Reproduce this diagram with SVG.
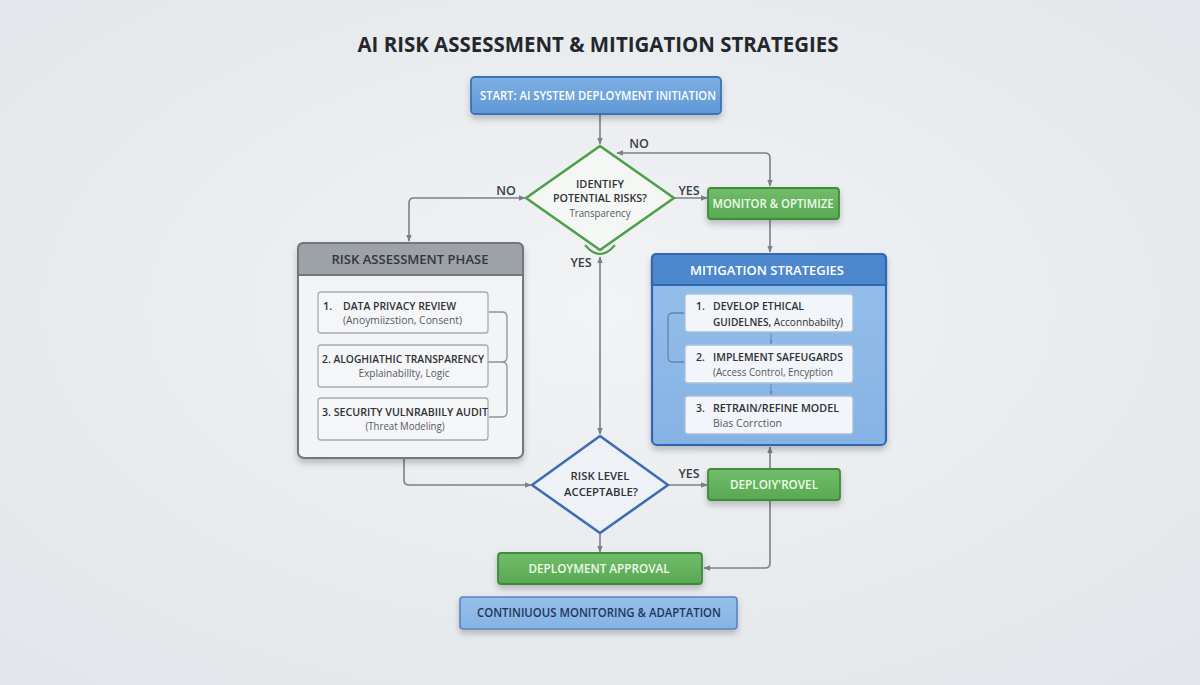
<svg xmlns="http://www.w3.org/2000/svg" width="1200" height="685" viewBox="0 0 1200 685">
<defs>
<radialGradient id="bg" cx="50%" cy="45%" r="70%">
<stop offset="0" stop-color="#f1f3f5"/><stop offset="1" stop-color="#e3e6ea"/>
</radialGradient>
<linearGradient id="gBlue" x1="0" y1="0" x2="0" y2="1"><stop offset="0" stop-color="#7db0e4"/><stop offset="1" stop-color="#5f98d6"/></linearGradient>
<linearGradient id="gGreen" x1="0" y1="0" x2="0" y2="1"><stop offset="0" stop-color="#72bd6b"/><stop offset="1" stop-color="#58a852"/></linearGradient>
<linearGradient id="gLight" x1="0" y1="0" x2="0" y2="1"><stop offset="0" stop-color="#96bfea"/><stop offset="1" stop-color="#86b3e4"/></linearGradient>
<filter id="sh" x="-10%" y="-20%" width="120%" height="160%">
<feDropShadow dx="0" dy="4" stdDeviation="3" flood-color="#000" flood-opacity="0.22"/>
</filter>
<marker id="ah" viewBox="0 0 10 10" refX="9" refY="5" markerWidth="7" markerHeight="7" orient="auto-start-reverse" markerUnits="userSpaceOnUse">
<path d="M0,1 L10,5 L0,9 z" fill="#7c8086"/>
</marker>
<marker id="ahs" viewBox="0 0 10 10" refX="9" refY="5" markerWidth="5" markerHeight="5" orient="auto" markerUnits="userSpaceOnUse">
<path d="M0,1 L10,5 L0,9 z" fill="#6d8fbf"/>
</marker>
<style>
.t{font-family:"Open Sans","Liberation Sans",sans-serif;}
.b{font-weight:700;}
.s{font-weight:600;}
.w{fill:#ffffff;}
.lw{fill:#eefbe9;}
.dk{fill:#2e3135;}
.gr{fill:#55595e;}
.con{fill:none;stroke:#7c8086;stroke-width:1.6;}
.lbl{font-family:"Open Sans","Liberation Sans",sans-serif;font-size:12.5px;font-weight:600;fill:#3a3d41;}
.ibox{fill:#f5f6f7;stroke:#a7abb0;stroke-width:1.3;}
.mbox{fill:#f2f5f9;stroke:#a9bfdc;stroke-width:1.3;}
.grn{fill:url(#gGreen);stroke:#3f8c3b;stroke-width:1.8;}
</style>
</defs>
<rect width="1200" height="685" fill="url(#bg)"/>

<text id="title" class="t b" x="598" y="52" font-size="21" text-anchor="middle" fill="#24272b" textLength="481" lengthAdjust="spacingAndGlyphs">AI RISK ASSESSMENT &amp; MITIGATION STRATEGIES</text>

<g id="connectors">
<path class="con" d="M600,115 V144" marker-end="url(#ah)"/>
<path class="con" d="M770,186 V158 Q770,153 765,153 H617" marker-start="url(#ah)" marker-end="url(#ah)"/>
<path class="con" d="M525,198 H414 Q409,198 409,203 V241" marker-start="url(#ah)" marker-end="url(#ah)"/>
<path class="con" d="M674,198 H707" marker-end="url(#ah)"/>
<path class="con" d="M770,220 V252" marker-end="url(#ah)"/>
<path class="con" d="M600,257 V434" marker-start="url(#ah)" marker-end="url(#ah)"/>
<path class="con" d="M404,459 V480 Q404,485 409,485 H531" marker-end="url(#ah)"/>
<path class="con" d="M668,485 H707" marker-end="url(#ah)"/>
<path class="con" d="M704,568 H765 Q770,568 770,563 V447" marker-start="url(#ah)" marker-end="url(#ah)"/>
<path class="con" d="M600,534 V552" marker-end="url(#ah)"/>
<text class="lbl" x="639" y="148" text-anchor="middle">NO</text>
<text class="lbl" x="506" y="195" text-anchor="middle">NO</text>
<text class="lbl" x="689" y="195" text-anchor="middle">YES</text>
<text class="lbl" x="581" y="267" text-anchor="middle">YES</text>
<text class="lbl" x="689" y="478" text-anchor="middle">YES</text>
</g>

<g id="start">
<rect x="471" y="77" width="250" height="37" rx="4" fill="url(#gBlue)" stroke="#3a72b9" stroke-width="1.8" filter="url(#sh)"/>
<text class="t s w" x="598" y="100" font-size="12.5" text-anchor="middle" textLength="236" lengthAdjust="spacingAndGlyphs">START: AI SYSTEM DEPLOYMENT INITIATION</text>
</g>

<g id="identify-risks">
<polygon points="600,146 674,198 600,250 526,198" fill="#f5f7f5" stroke="#4d9f48" stroke-width="2.6" stroke-linejoin="round"/>
<path d="M585,245 Q600,263 615,245" fill="none" stroke="#4d9f48" stroke-width="2"/>
<text class="t s dk" x="600" y="188" font-size="11.5" text-anchor="middle" textLength="48" lengthAdjust="spacingAndGlyphs">IDENTIFY</text>
<text class="t s dk" x="600" y="202" font-size="11.5" text-anchor="middle" textLength="94" lengthAdjust="spacingAndGlyphs">POTENTIAL RISKS?</text>
<text class="t gr" x="600" y="217" font-size="10.5" text-anchor="middle" textLength="61" lengthAdjust="spacingAndGlyphs">Transparency</text>
</g>

<g id="monitor-optimize">
<rect class="grn" x="708" y="188" width="131" height="31" rx="3" filter="url(#sh)"/>
<text class="t s lw" x="773" y="208" font-size="12" text-anchor="middle" textLength="121" lengthAdjust="spacingAndGlyphs">MONITOR &amp; OPTIMIZE</text>
</g>

<g id="risk-assessment-phase">
<rect x="298" y="243" width="225" height="215" rx="6" fill="#f3f4f5" stroke="#72777d" stroke-width="2" filter="url(#sh)"/>
<path d="M298,275 V249 Q298,243 304,243 H517 Q523,243 523,249 V275 Z" fill="#9da2a8" stroke="#72777d" stroke-width="2"/>
<text class="t s" x="410" y="264" font-size="13" text-anchor="middle" fill="#33363a" textLength="157" lengthAdjust="spacingAndGlyphs">RISK ASSESSMENT PHASE</text>
<path d="M489,312 H502 Q507,312 507,317 V357 Q507,362 502,362 H486 M486,362 H502 Q507,362 507,367 V412 Q507,417 502,417 H489" fill="none" stroke="#8e9298" stroke-width="1.3"/>
<rect class="ibox" x="318" y="292" width="170" height="41" rx="3"/>
<text class="t s dk" x="323" y="310" font-size="11">1.</text>
<text class="t s dk" x="343" y="310" font-size="11" textLength="113" lengthAdjust="spacingAndGlyphs">DATA PRIVACY REVIEW</text>
<text class="t gr" x="343" y="324" font-size="10.5" textLength="119" lengthAdjust="spacingAndGlyphs">(Anoymiizstion, Consent)</text>
<rect class="ibox" x="318" y="345" width="170" height="42" rx="3"/>
<text class="t s dk" x="322" y="363" font-size="11" textLength="162" lengthAdjust="spacingAndGlyphs">2. ALOGHIATHIC TRANSPARENCY</text>
<text class="t gr" x="404" y="377" font-size="10.5" text-anchor="middle" textLength="91" lengthAdjust="spacingAndGlyphs">Explainabillty, Logic</text>
<rect class="ibox" x="318" y="398" width="170" height="42" rx="3"/>
<text class="t s dk" x="322" y="416" font-size="11" textLength="166" lengthAdjust="spacingAndGlyphs">3. SECURITY VULNRABIILY AUDIT</text>
<text class="t gr" x="405" y="430" font-size="10.5" text-anchor="middle" textLength="79" lengthAdjust="spacingAndGlyphs">(Threat Modeling)</text>
</g>

<g id="mitigation-strategies">
<rect x="652" y="254" width="234" height="191" rx="5" fill="url(#gLight)" stroke="#2f68b3" stroke-width="2.2" filter="url(#sh)"/>
<path d="M652,285 V259 Q652,254 657,254 H881 Q886,254 886,259 V285 Z" fill="#4d88cf" stroke="#2f68b3" stroke-width="2.2"/>
<text class="t s w" x="767" y="275" font-size="13" text-anchor="middle" textLength="154" lengthAdjust="spacingAndGlyphs">MITIGATION STRATEGIES</text>
<path d="M685,313 H673 Q668,313 668,318 V357 Q668,362 673,362 H685" fill="none" stroke="#5f86ba" stroke-width="1.3"/>
<rect class="mbox" x="685" y="294" width="168" height="38" rx="3"/>
<text class="t s dk" x="696" y="310" font-size="10.5">1.</text>
<text class="t s dk" x="713" y="310" font-size="10.5" textLength="91" lengthAdjust="spacingAndGlyphs">DEVELOP ETHICAL</text>
<text class="t s dk" x="713" y="326" font-size="10.5" textLength="130" lengthAdjust="spacingAndGlyphs">GUIDELNES, <tspan font-weight="400">Acconnbabilty)</tspan></text>
<rect class="mbox" x="685" y="345" width="168" height="38" rx="3"/>
<text class="t s dk" x="696" y="361" font-size="10.5">2.</text>
<text class="t s dk" x="713" y="361" font-size="10.5" textLength="130" lengthAdjust="spacingAndGlyphs">IMPLEMENT SAFEUGARDS</text>
<text class="t gr" x="713" y="376" font-size="10.5" textLength="120" lengthAdjust="spacingAndGlyphs">(Access Control, Encyption</text>
<rect class="mbox" x="685" y="396" width="168" height="38" rx="3"/>
<text class="t s dk" x="696" y="412" font-size="10.5">3.</text>
<text class="t s dk" x="713" y="412" font-size="10.5" textLength="126" lengthAdjust="spacingAndGlyphs">RETRAIN/REFINE MODEL</text>
<text class="t gr" x="713" y="427" font-size="10.5" textLength="69" lengthAdjust="spacingAndGlyphs">Bias Corrction</text>
<path d="M771,333 V344" stroke="#6d8fbf" stroke-width="1.2" marker-end="url(#ahs)"/>
<path d="M771,384 V395" stroke="#6d8fbf" stroke-width="1.2" marker-end="url(#ahs)"/>
</g>

<g id="risk-level-acceptable">
<polygon points="600,436 668,485 600,533 532,485" fill="#eef2f7" stroke="#3c6db3" stroke-width="2.6" stroke-linejoin="round"/>
<text class="t s dk" x="600" y="480" font-size="11.5" text-anchor="middle" textLength="59" lengthAdjust="spacingAndGlyphs">RISK LEVEL</text>
<text class="t s dk" x="601" y="496" font-size="11.5" text-anchor="middle" textLength="74" lengthAdjust="spacingAndGlyphs">ACCEPTABLE?</text>
</g>

<g id="deploy-provel">
<rect class="grn" x="708" y="469" width="132" height="31" rx="3" filter="url(#sh)"/>
<text class="t s lw" x="774" y="489" font-size="12" text-anchor="middle" textLength="88" lengthAdjust="spacingAndGlyphs">DEPLOIY'ROVEL</text>
</g>

<g id="deployment-approval">
<rect class="grn" x="498" y="553" width="204" height="31" rx="3" filter="url(#sh)"/>
<text class="t s lw" x="599" y="573" font-size="12" text-anchor="middle" textLength="141" lengthAdjust="spacingAndGlyphs">DEPLOYMENT APPROVAL</text>
</g>

<g id="continuous-monitoring">
<rect x="460" y="597" width="277" height="32" rx="3" fill="url(#gLight)" stroke="#5a85bd" stroke-width="1.6" filter="url(#sh)"/>
<text class="t s" x="599" y="617" font-size="12.5" text-anchor="middle" fill="#1f3659" textLength="244" lengthAdjust="spacingAndGlyphs">CONTINIUOUS MONITORING &amp; ADAPTATION</text>
</g>
</svg>
